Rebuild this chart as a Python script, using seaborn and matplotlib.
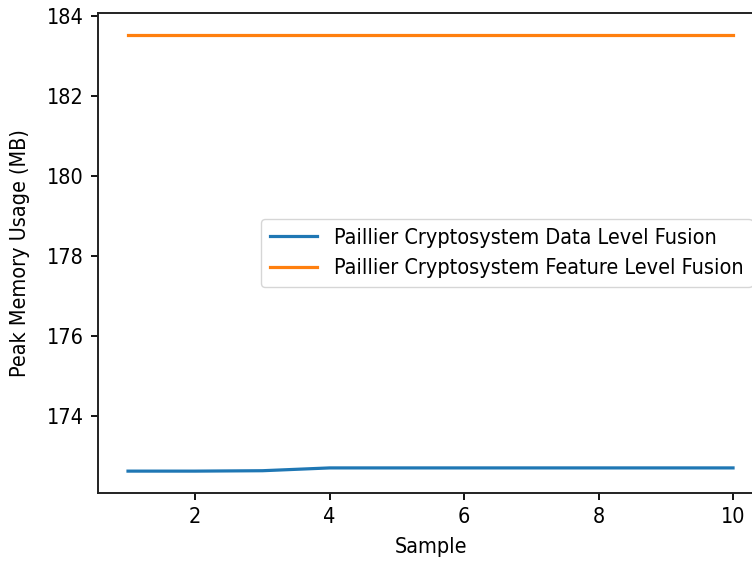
import numpy as np
import pandas as pd
import matplotlib
matplotlib.use("Agg")
import matplotlib.pyplot as plt
import seaborn as sns

# ------------ Data --------------
samples = [1, 2, 3, 4, 5, 6, 7, 8, 9, 10]
data_level = [172.63, 172.63, 172.64, 172.71, 172.71, 172.71, 172.71, 172.71, 172.71, 172.71]
feature_level = [183.52, 183.52, 183.52, 183.52, 183.52, 183.52, 183.52, 183.52, 183.52, 183.52]
labels = ["Paillier Cryptosystem Data Level Fusion",
          "Paillier Cryptosystem Feature Level Fusion"]

df = pd.DataFrame({"Sample": samples, "Data": data_level, "Feature": feature_level})

plt.rcParams["font.family"] = ["DejaVu Sans"]
plt.rcParams["font.stretch"] = "condensed"
plt.rcParams["font.size"] = 15.5
plt.rcParams["axes.linewidth"] = 1.4
plt.rcParams["axes.edgecolor"] = "#222222"
plt.rcParams["xtick.major.size"] = 5
plt.rcParams["ytick.major.size"] = 5
plt.rcParams["xtick.major.width"] = 1.3
plt.rcParams["ytick.major.width"] = 1.3
plt.rcParams["xtick.major.pad"] = 5
plt.rcParams["ytick.major.pad"] = 5

fig = plt.figure(figsize=(7.52, 5.64), dpi=100)
ax = fig.add_axes([0.130, 0.126, 0.885, 0.851])

# ------------ Lines --------------
sns.lineplot(data=df, x="Sample", y="Data", ax=ax, color="#1f77b4", linewidth=2.3, label=labels[0])
sns.lineplot(data=df, x="Sample", y="Feature", ax=ax, color="#ff7f0e", linewidth=2.3, label=labels[1])

ax.set_xlabel("Sample", labelpad=7)
ax.set_ylabel("Peak Memory Usage (MB)", labelpad=12)
ax.set_xticks([2, 4, 6, 8, 10])
ax.set_yticks([174, 176, 178, 180, 182, 184])
ax.legend(loc="center right", handlelength=2.2)

fig.savefig("out.png", dpi=100)
